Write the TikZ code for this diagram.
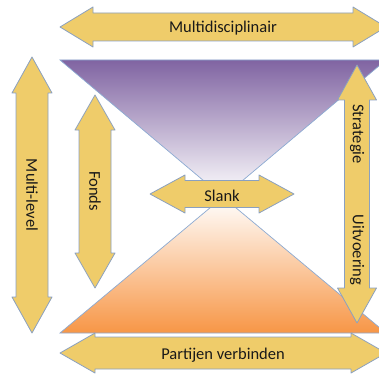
\documentclass[tikz,border=0pt]{standalone}
\usepackage{fontspec}
\setmainfont{Carlito}
\definecolor{arrowfill}{RGB}{239,204,106}
\definecolor{arrowline}{RGB}{138,160,192}
\definecolor{trimline}{RGB}{140,170,210}
\definecolor{violet}{RGB}{128,100,162}
\definecolor{peach}{RGB}{247,150,70}

% double block arrows: from, to, middle, shaft half, head half, head length
\newcommand{\harrow}[6]{%
  \draw[blockarrow] (#1,#3) -- ({#1+#6},{#3-#5}) -- ({#1+#6},{#3-#4}) -- ({#2-#6},{#3-#4})
    -- ({#2-#6},{#3-#5}) -- (#2,#3) -- ({#2-#6},{#3+#5}) -- ({#2-#6},{#3+#4})
    -- ({#1+#6},{#3+#4}) -- ({#1+#6},{#3+#5}) -- cycle;}
\newcommand{\varrow}[6]{%
  \draw[blockarrow] (#3,#1) -- ({#3-#5},{#1+#6}) -- ({#3-#4},{#1+#6}) -- ({#3-#4},{#2-#6})
    -- ({#3-#5},{#2-#6}) -- (#3,#2) -- ({#3+#5},{#2-#6}) -- ({#3+#4},{#2-#6})
    -- ({#3+#4},{#1+#6}) -- ({#3+#5},{#1+#6}) -- cycle;}

\begin{document}
\begin{tikzpicture}[x=1pt, y=-1pt,
    blockarrow/.style={draw=arrowline, fill=arrowfill, line width=0.8pt, line join=round},
    trim/.style={draw=trimline, line width=0.7pt},
    lbl/.style={font=\fontsize{16.5}{20}\selectfont, text=black!90, inner sep=0pt}]
    \useasboundingbox (0,0) rectangle (379,374);
    \clip (0,0) rectangle (379,374);

    % funnel
    \shadedraw[trim, top color=violet, bottom color=white] (60,60) -- (386,60) -- (223,197) -- cycle;
    \shadedraw[trim, top color=white, bottom color=peach] (223,197) -- (386,333) -- (60,333) -- cycle;

    % arrows
    \harrow{60}{386}{27}{14}{20}{33}
    \harrow{60}{386}{353}{16}{20}{35}
    \harrow{150}{294}{194}{13.5}{19}{35}
    \varrow{57}{333}{32}{16}{20}{36}
    \varrow{95}{288}{95}{16}{20}{35}
    \varrow{65}{323}{357}{12.5}{19.5}{35}

    % labels
    \node[lbl] (multidisc) at (223,28) {Multidisciplinair};
    \node[lbl] (partijen) at (223,355) {Partijen verbinden};
    \node[lbl] (slank) at (222,196) {Slank};
    \node[lbl, rotate=-90] (multilevel) at (32,195) {Multi-level};
    \node[lbl, rotate=-90] (fonds) at (95,191) {Fonds};
    \node[lbl, rotate=-90] (strategie) at (357,134) {Strategie};
    \node[lbl, rotate=-90] (uitvoering) at (357,250) {Uitvoering};
\end{tikzpicture}
\end{document}
